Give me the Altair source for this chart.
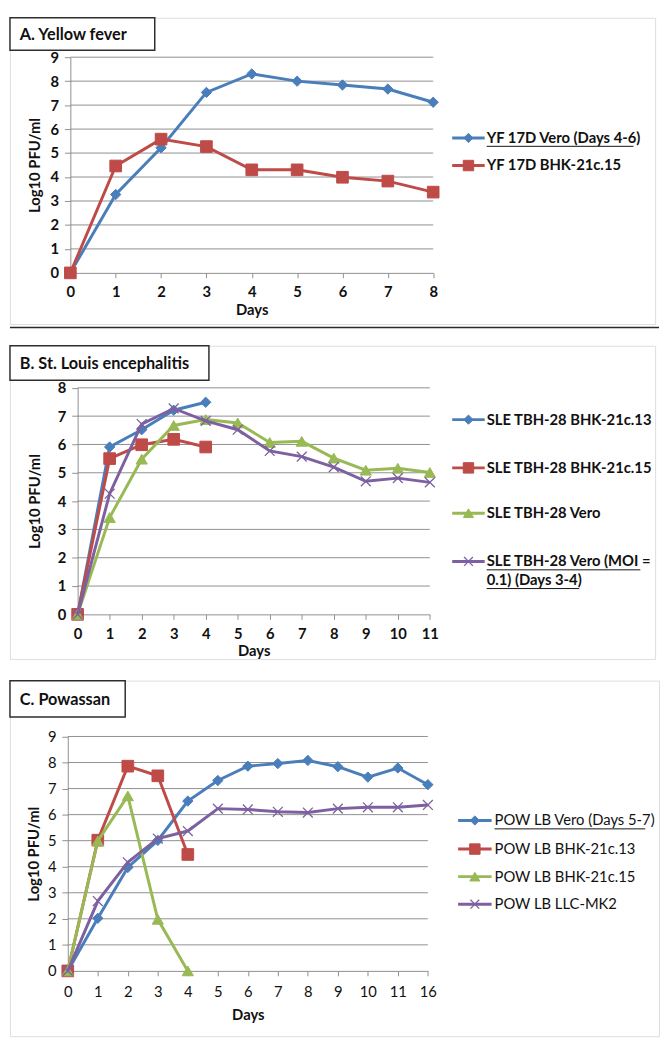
import altair as alt
import pandas as pd

FONT = "Lato"
INK = "#111111"
GRID = "#8f8f8f"
BORDER = "#a3a3a3"
BOXLINE = "#2e2e2e"
BLUE, RED, GREEN, PURPLE = "#4A7EBB", "#BE4B48", "#98B954", "#7D60A0"
X_PATH = "M-1,-1L1,1M1,-1L-1,1"
LEG_FS = 15
TICK_FS = 15
AXT_FS = 15
BOX_FS = 16.5

# ---------------- Panel A : Yellow fever ----------------
A_TITLE = "A. Yellow fever"
A_DAYS = ["0", "1", "2", "3", "4", "5", "6", "7", "8"]
A_TICKS = [0, 1, 2, 3, 4, 5, 6, 7, 8, 9]
A_NAMES = ["YF 17D Vero (Days 4-6)", "YF 17D BHK-21c.15"]
A_VERO = [0, 3.27, 5.22, 7.53, 8.30, 8.00, 7.84, 7.67, 7.12]
A_BHK15 = [0, 4.46, 5.58, 5.27, 4.30, 4.30, 3.99, 3.83, 3.37]
A_LEGEND = [["YF 17D Vero (Days 4-6)"], ["YF 17D BHK-21c.15"]]
A_UNDER = [[149], [0]]

# ---------------- Panel B : St. Louis encephalitis ----------------
B_TITLE = "B. St. Louis encephalitis"
B_DAYS = ["0", "1", "2", "3", "4", "5", "6", "7", "8", "9", "10", "11"]
B_TICKS = [0, 1, 2, 3, 4, 5, 6, 7, 8]
B_NAMES = ["SLE TBH-28 BHK-21c.13", "SLE TBH-28 BHK-21c.15", "SLE TBH-28 Vero",
           "SLE TBH-28 Vero (MOI = 0.1) (Days 3-4)"]
B_BHK13 = [0, 5.91, 6.52, 7.21, 7.49]
B_BHK15 = [0, 5.50, 5.99, 6.18, 5.91]
B_VERO = [0, 3.42, 5.48, 6.67, 6.88, 6.76, 6.07, 6.11, 5.52, 5.09, 5.16, 5.01]
B_MOI = [0, 4.26, 6.72, 7.27, 6.83, 6.52, 5.77, 5.57, 5.20, 4.70, 4.81, 4.66]
B_LEGEND = [["SLE TBH-28 BHK-21c.13"], ["SLE TBH-28 BHK-21c.15"], ["SLE TBH-28 Vero"],
            ["SLE TBH-28 Vero (MOI =", "0.1) (Days 3-4)"]]
B_UNDER = [[0], [0], [0], [156, 94]]

# ---------------- Panel C : Powassan ----------------
C_TITLE = "C. Powassan"
C_DAYS = ["0", "1", "2", "3", "4", "5", "6", "7", "8", "9", "10", "11", "16"]
C_TICKS = [0, 1, 2, 3, 4, 5, 6, 7, 8, 9]
C_NAMES = ["POW LB Vero (Days 5-7)", "POW LB BHK-21c.13", "POW LB BHK-21c.15", "POW LB LLC-MK2"]
C_VERO = [0, 2.02, 3.97, 5.01, 6.52, 7.31, 7.86, 7.96, 8.08, 7.84, 7.44, 7.79, 7.15]
C_BHK13 = [0, 5.02, 7.86, 7.49, 4.47]
C_BHK15 = [0, 4.99, 6.72, 1.98, 0]
C_LLC = [0, 2.68, 4.17, 5.08, 5.37, 6.23, 6.20, 6.11, 6.08, 6.23, 6.28, 6.28, 6.37]
C_LEGEND = [["POW LB Vero (Days 5-7)"], ["POW LB BHK-21c.13"], ["POW LB BHK-21c.15"], ["POW LB LLC-MK2"]]
C_UNDER = [[153], [0], [0], [0]]

STY_DIAMOND = dict(color=BLUE, shape="diamond", size=110, filled=True)
STY_SQUARE = dict(color=RED, shape="square", size=140, filled=True)
STY_TRI = dict(color=GREEN, shape="triangle-up", size=130, filled=True)
STY_X = dict(color=PURPLE, shape=X_PATH, size=100, filled=False)


def marker(st, size=None):
    s = size if size is not None else st["size"]
    if st["filled"]:
        return dict(shape=st["shape"], size=s, filled=True, fill=st["color"],
                    stroke=st["color"], strokeWidth=1, opacity=1)
    return dict(shape=st["shape"], size=s, filled=False, stroke=st["color"],
                strokeWidth=1.3, opacity=1)


def panel(W, H, xr, yr, days, ticks, names, values, styles, title, box_w, box_h,
          bold, xlab_pad, xtitle_dy, ytitle_x, legx0, legx1, legtx, legy, leglines,
          unders, sep_y=None, sep_x2=None):
    fw = "bold" if bold else "normal"
    xscale = alt.Scale(type="point", domain=days, range=xr, padding=0)
    yscale = alt.Scale(domain=[ticks[0], ticks[-1]], range=yr, nice=False, zero=False)
    xaxis = alt.Axis(orient="bottom", offset=yr[0] - H, labelAngle=0, grid=False,
                     domainColor=GRID, domainWidth=1, tickColor=GRID, tickSize=5,
                     labelFont=FONT, labelFontSize=TICK_FS, labelFontWeight=fw, labelColor=INK,
                     labelBaseline="middle", labelPadding=xlab_pad,
                     title="Days", titleFont=FONT, titleFontSize=AXT_FS, titleFontWeight="bold",
                     titleColor=INK, titleX=(xr[0] + xr[1]) / 2, titleY=xtitle_dy,
                     titleBaseline="middle", titleAlign="center")
    yaxis = alt.Axis(orient="left", offset=-xr[0], values=ticks, grid=False,
                     domainColor=GRID, domainWidth=1, tickColor=GRID, tickSize=6,
                     labelFont=FONT, labelFontSize=TICK_FS, labelFontWeight=fw, labelColor=INK,
                     labelPadding=6, title="Log10 PFU/ml", titleFont=FONT, titleFontSize=AXT_FS,
                     titleFontWeight="bold", titleColor=INK, titleAngle=270,
                     titleX=ytitle_x - xr[0], titleY=(yr[0] + yr[1]) / 2,
                     titleBaseline="middle", titleAlign="center")
    X = alt.X("day:O", sort=days, scale=xscale, axis=xaxis)
    Y = alt.Y("value:Q", scale=yscale, axis=yaxis)

    layers = []
    grid = alt.Chart(pd.DataFrame({"value": ticks[1:]})).mark_rule(
        color=GRID, strokeWidth=1).encode(y=Y, x=alt.value(xr[0]), x2=alt.value(xr[1]))
    layers.append(grid)

    for name, vals, st in zip(names, values, styles):
        df = pd.DataFrame({"day": days[:len(vals)], "idx": list(range(len(vals))),
                           "value": vals, "series": name})
        layers.append(alt.Chart(df).mark_line(color=st["color"], strokeWidth=3).encode(
            x=X, y=Y, order="idx:Q"))
        layers.append(alt.Chart(df).mark_point(**marker(st)).encode(x=X, y=Y))

    # title box
    tdf = pd.DataFrame({"t": [title]})
    layers.append(alt.Chart(tdf).mark_rect(fill="white", stroke=BOXLINE, strokeWidth=1.5).encode(
        x=alt.value(0), x2=alt.value(box_w), y=alt.value(0), y2=alt.value(box_h)))
    layers.append(alt.Chart(tdf).mark_text(align="left", baseline="middle", font=FONT,
                                           fontSize=BOX_FS, fontWeight="bold", color=INK).encode(
        x=alt.value(10), y=alt.value(box_h / 2 + 1), text="t:N"))

    # legend
    for k, (name, st) in enumerate(zip(names, styles)):
        ry = legy[k]
        one = pd.DataFrame({"s": [name]})
        layers.append(alt.Chart(one).mark_rule(color=st["color"], strokeWidth=3).encode(
            x=alt.value(legx0), x2=alt.value(legx1), y=alt.value(ry)))
        layers.append(alt.Chart(one).mark_point(**marker(st, st["size"] * 0.8)).encode(
            x=alt.value((legx0 + legx1) / 2), y=alt.value(ry)))
        for j, line_text in enumerate(leglines[k]):
            ty = ry + j * 19
            ldf = pd.DataFrame({"t": [line_text]})
            layers.append(alt.Chart(ldf).mark_text(align="left", baseline="middle", font=FONT,
                                                   fontSize=LEG_FS, fontWeight=fw, color=INK).encode(
                x=alt.value(legtx), y=alt.value(ty), text="t:N"))
            uw = unders[k][j]
            if uw:
                layers.append(alt.Chart(ldf).mark_rule(color=INK, strokeWidth=1).encode(
                    x=alt.value(legtx), x2=alt.value(legtx + uw), y=alt.value(ty + 8.5)))

    if sep_y is not None:
        layers.append(alt.Chart(tdf).mark_rule(color="#2a2a2a", strokeWidth=1.6).encode(
            x=alt.value(0), x2=alt.value(sep_x2), y=alt.value(sep_y)))

    return alt.layer(*layers).properties(width=W, height=H)


pa = panel(W=655, H=311, xr=[61.3, 429.7], yr=[259, 40], days=A_DAYS, ticks=A_TICKS,
           names=A_NAMES, values=[A_VERO, A_BHK15], styles=[STY_DIAMOND, STY_SQUARE],
           title=A_TITLE, box_w=147, box_h=33, bold=True, xlab_pad=14, xtitle_dy=37,
           ytitle_x=25, legx0=449, legx1=482, legtx=484, legy=[122, 150],
           leglines=A_LEGEND, unders=A_UNDER, sep_y=314.5, sep_x2=659)

pb = panel(W=655, H=318, xr=[68.7, 426.3], yr=[272.7, 42.7], days=B_DAYS, ticks=B_TICKS,
           names=B_NAMES, values=[B_BHK13, B_BHK15, B_VERO, B_MOI],
           styles=[STY_DIAMOND, STY_SQUARE, STY_TRI, STY_X],
           title=B_TITLE, box_w=202, box_h=35, bold=True, xlab_pad=15, xtitle_dy=37,
           ytitle_x=25, legx0=449, legx1=482, legtx=484, legy=[75, 124, 170, 219],
           leglines=B_LEGEND, unders=B_UNDER)

pc = panel(W=659, H=361, xr=[58.7, 424.3], yr=[294.7, 56.7], days=C_DAYS, ticks=C_TICKS,
           names=C_NAMES, values=[C_VERO, C_BHK13, C_BHK15, C_LLC],
           styles=[STY_DIAMOND, STY_SQUARE, STY_TRI, STY_X],
           title=C_TITLE, box_w=117, box_h=37, bold=False, xlab_pad=16, xtitle_dy=44,
           ytitle_x=24, legx0=455, legx1=489, legtx=492, legy=[142, 171, 199, 227],
           leglines=C_LEGEND, unders=C_UNDER)

chart = alt.vconcat(
    pa, pb, pc, spacing=22, bounds="flush",
    padding={"left": 0, "top": 0, "right": 0, "bottom": 0},
).configure_view(stroke=BORDER, strokeWidth=1.5).configure(background="white")

chart.save("out.html", embed_options={"renderer": "svg", "actions": False})
